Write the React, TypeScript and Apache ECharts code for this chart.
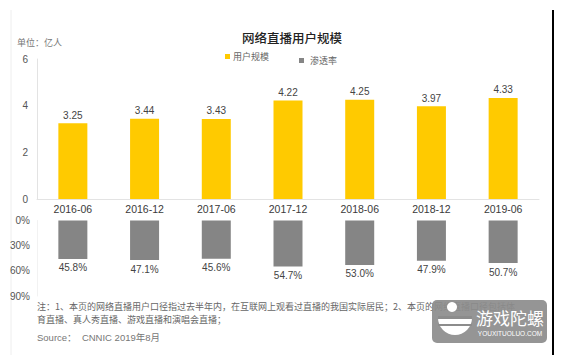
import React, { useEffect, useRef } from "react";
import * as echarts from "echarts";

const categories = ["2016-06", "2016-12", "2017-06", "2017-12", "2018-06", "2018-12", "2019-06"];
const users = [3.25, 3.44, 3.43, 4.22, 4.25, 3.97, 4.33];
const penetration = [45.8, 47.1, 45.6, 54.7, 53.0, 47.9, 50.7];

const TITLE = "网络直播用户规模";
const UNIT = "单位：亿人";
const NOTE1 = "注：1、本页的网络直播用户口径指过去半年内，在互联网上观看过直播的我国实际居民；2、本页的网络直播口径包括体";
const NOTE2 = "育直播、真人秀直播、游戏直播和演唱会直播；";
const SOURCE = "Source：  CNNIC 2019年8月";

const FONT = "'Noto Sans CJK SC', 'Noto Sans', sans-serif";
const NUMFONT = "'Liberation Sans', 'Noto Sans CJK SC', sans-serif";

export default function App() {
  const ref = useRef<HTMLDivElement>(null);
  useEffect(() => {
    if (!ref.current) return;
    const chart = echarts.init(ref.current, undefined, { renderer: "svg" });
    chart.setOption({
      animation: false,
      backgroundColor: "#ffffff",
      textStyle: { fontFamily: FONT },
      title: {
        text: TITLE,
        left: 287,
        textAlign: "center",
        top: 26,
        textStyle: { fontSize: 12.5, fontWeight: 500, color: "#222", fontFamily: FONT },
      },
      legend: [
        {
          data: ["用户规模"],
          left: 220,
          top: 47,
          itemWidth: 5,
          itemHeight: 5,
          itemGap: 3,
          icon: "rect",
          textStyle: { fontSize: 9, color: "#666", padding: [0, 0, 0, -2] },
        },
        {
          data: ["渗透率"],
          left: 294,
          top: 51,
          itemWidth: 5,
          itemHeight: 5,
          icon: "rect",
          textStyle: { fontSize: 9, color: "#666", padding: [0, 0, 0, 1] },
        },
      ],
      grid: [
        { left: 37, width: 502, top: 59, height: 140 },
        { left: 37, width: 502, top: 220.5, height: 75.5 },
      ],
      xAxis: [
        {
          type: "category",
          gridIndex: 0,
          data: categories,
          axisLine: { lineStyle: { color: "#e3e3e3" } },
          axisTick: { show: false },
          axisLabel: { fontSize: 10.5, color: "#3a3a3a", margin: 5, fontFamily: NUMFONT },
        },
        {
          type: "category",
          gridIndex: 1,
          data: categories,
          show: false,
        },
      ],
      yAxis: [
        {
          type: "value",
          gridIndex: 0,
          min: 0,
          max: 6,
          interval: 2,
          splitLine: { show: false },
          axisLine: { show: true, lineStyle: { color: "#e3e3e3" } },
          axisTick: { show: false },
          axisLabel: { fontSize: 10, color: "#555", margin: 9, fontFamily: NUMFONT },
        },
        {
          type: "value",
          gridIndex: 1,
          inverse: true,
          min: 0,
          max: 90,
          interval: 30,
          splitLine: { show: false },
          axisLine: { show: true, lineStyle: { color: "#f2f2f2" } },
          axisTick: { show: false },
          axisLabel: { fontSize: 10, color: "#555", margin: 7, formatter: "{value}%", fontFamily: NUMFONT },
        },
      ],
      series: [
        {
          name: "用户规模",
          type: "bar",
          xAxisIndex: 0,
          yAxisIndex: 0,
          data: users,
          barWidth: 29,
          itemStyle: { color: "#FFCA00" },
          label: {
            show: true,
            position: "top",
            distance: 3,
            fontSize: 10,
            color: "#444",
            fontFamily: NUMFONT,
            formatter: (p: any) => p.value.toFixed(2),
          },
        },
        {
          name: "渗透率",
          type: "bar",
          xAxisIndex: 1,
          yAxisIndex: 1,
          data: penetration,
          barWidth: 29,
          itemStyle: { color: "#858585" },
          label: {
            show: true,
            position: "bottom",
            distance: 4,
            fontSize: 10,
            color: "#444",
            fontFamily: NUMFONT,
            formatter: (p: any) => p.value.toFixed(1) + "%",
          },
        },
      ],
      graphic: [
        {
          type: "line",
          shape: { x1: 11, y1: 10, x2: 11, y2: 355 },
          style: { stroke: "#eeeeee", lineWidth: 1 },
        },
        {
          type: "line",
          shape: { x1: 553, y1: 10, x2: 553, y2: 355 },
          style: { stroke: "#000000", lineWidth: 2 },
        },
        {
          type: "text",
          x: 17,
          y: 42,
          style: { text: UNIT, fontSize: 9, fill: "#777", fontFamily: FONT, verticalAlign: "middle" },
        },
        {
          type: "text",
          x: 37,
          y: 306,
          style: { text: NOTE1, fontSize: 9, fill: "#666", fontFamily: FONT, verticalAlign: "middle" },
        },
        {
          type: "text",
          x: 37,
          y: 319,
          style: { text: NOTE2, fontSize: 9, fill: "#666", fontFamily: FONT, verticalAlign: "middle" },
        },
        {
          type: "text",
          x: 37,
          y: 337,
          style: { text: SOURCE, fontSize: 9.5, fill: "#777", fontFamily: NUMFONT, verticalAlign: "middle" },
        },
        {
          type: "group",
          children: [
            {
              type: "rect",
              shape: { x: 432, y: 300, width: 115, height: 43, r: 5 },
              style: { fill: "#8c8c8c", opacity: 0.92 },
            },
            {
              type: "sector",
              shape: { cx: 455, cy: 318, r0: 0, r: 17, startAngle: 0, endAngle: Math.PI },
              style: { fill: "#ffffff" },
            },
            {
              type: "rect",
              shape: { x: 438, y: 316, width: 34, height: 3 },
              style: { fill: "#8c8c8c" },
            },
            {
              type: "rect",
              shape: { x: 438, y: 324, width: 34, height: 2 },
              style: { fill: "#8c8c8c" },
            },
            {
              type: "circle",
              shape: { cx: 452, cy: 307, r: 5 },
              style: { fill: "#ffffff" },
            },
            {
              type: "text",
              x: 510,
              y: 317,
              style: {
                text: "游戏陀螺",
                fontSize: 17,
                fill: "#ffffff",
                fontFamily: FONT,
                align: "center",
                verticalAlign: "middle",
              },
            },
            {
              type: "text",
              x: 510,
              y: 333,
              style: {
                text: "YOUXITUOLUO.COM",
                fontSize: 6.5,
                fill: "#ffffff",
                fontFamily: NUMFONT,
                align: "center",
                verticalAlign: "middle",
              },
            },
          ],
        },
      ],
    });
    return () => chart.dispose();
  }, []);
  return (
    <div
      ref={ref}
      style={{ position: "fixed", left: 0, top: 0, width: 562, height: 355, background: "#fff" }}
    />
  );
}
